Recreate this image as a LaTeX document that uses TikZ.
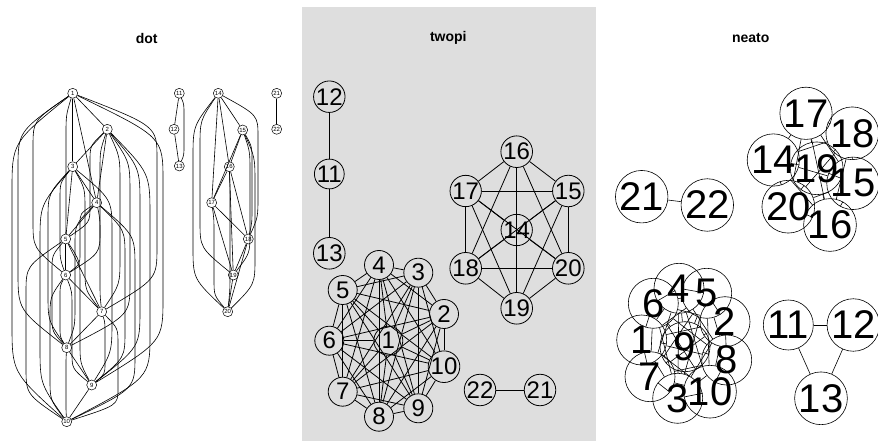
\documentclass[tikz,border=0pt]{standalone}
\usepackage{fontspec}
\setmainfont{Liberation Sans}
\usetikzlibrary{calc}
\definecolor{panelgray}{RGB}{222,222,222}
\tikzset{
  dotn/.style={circle, draw, line width=0.5pt, fill=white, inner sep=0pt, minimum size=10pt, font=\fontsize{6}{6}\selectfont},
  twn/.style={circle, draw, line width=0.8pt, inner sep=0pt, minimum size=29pt, font=\fontsize{24}{24}\selectfont},
  nen/.style={circle, draw, line width=0.6pt, inner sep=0pt, minimum size=50pt, font=\fontsize{40}{40}\selectfont},
  dotedge/.style={draw, line width=0.6pt},
  twedge/.style={draw, line width=0.8pt},
  needge/.style={draw, line width=0.6pt},
  paneltitle/.style={font=\fontsize{14}{14}\selectfont\bfseries}
}
\newcommand\dotcurve[3]{\draw[dotedge] let \p1=(#1.center), \p2=(#2.center), \n1={0.3*(\y2-\y1)} in
  (#1) .. controls ({#3*1pt},{\y1+0.5*\n1*1pt}) .. ({#3*1pt},{\y1+\n1*1pt})
  -- ({#3*1pt},{\y2-\n1*1pt}) .. controls ({#3*1pt},{\y2-0.5*\n1*1pt}) .. (#2);}
\begin{document}
\begin{tikzpicture}[x=1pt,y=-1pt]
\useasboundingbox (0,0) rectangle (878,443);
\fill[panelgray] (302,7) rectangle (596,441);
% titles
\node[paneltitle] (tdot) at (146.7,38.3) {dot};
\node[paneltitle] (ttwo) at (448.3,38.3) {twopi};
\node[paneltitle] (tnea) at (750.7,38.3) {neato};
% ---------------- dot ----------------
\node[dotn] (d1) at (72.7,93.3) {1};
\node[dotn] (d2) at (107.3,129.3) {2};
\node[dotn] (d3) at (72.7,166.7) {3};
\node[dotn] (d4) at (96.7,202.7) {4};
\node[dotn] (d5) at (65.7,239) {5};
\node[dotn] (d6) at (65.7,275) {6};
\node[dotn] (d7) at (101.7,311.7) {7};
\node[dotn] (d8) at (66.7,347.7) {8};
\node[dotn] (d9) at (91.7,385) {9};
\node[dotn] (d10) at (66.7,421.7) {10};
\node[dotn] (d11) at (179.3,93.3) {11};
\node[dotn] (d12) at (174,129.3) {12};
\node[dotn] (d13) at (179.3,166) {13};
\node[dotn] (d14) at (218.3,93.3) {14};
\node[dotn] (d15) at (242.7,130) {15};
\node[dotn] (d16) at (229.3,166.7) {16};
\node[dotn] (d17) at (211.7,202.7) {17};
\node[dotn] (d18) at (248.3,239) {18};
\node[dotn] (d19) at (233.3,275) {19};
\node[dotn] (d20) at (227.7,311.7) {20};
\node[dotn] (d21) at (276.7,93.3) {21};
\node[dotn] (d22) at (276.7,129.3) {22};
\foreach \a/\b in {1/2,1/3,1/4,2/3,2/4,3/4,3/5,4/5,5/6,5/7,6/7,7/8,8/9,9/10,
  14/15,14/16,14/17,15/16,15/17,16/17,16/18,16/19,17/18,17/19,18/19,18/20,19/20,
  11/12,12/13,21/22}
  {\draw[dotedge] (d\a) -- (d\b);}
\foreach \a/\b/\l in {1/5/66,1/6/33,1/7/157,1/8/18,1/9/163,1/10/12,
  2/5/90,2/6/100,2/7/120,2/8/130,2/9/140,2/10/150,
  3/6/60,3/7/85,3/8/48,3/9/112,3/10/40,
  4/6/80,4/7/100,4/8/75,4/9/125,4/10/135,
  5/8/52,5/9/80,5/10/26,
  6/8/60,6/9/72,6/10/50,
  7/9/105,7/10/118,8/10/66,
  14/18/258,14/19/200,14/20/193,15/18/252,15/19/250,15/20/255,16/20/230,17/20/214,
  11/13/184}
  {\dotcurve{d\a}{d\b}{\l}}
% ---------------- twopi ----------------
\node[twn] (t12) at (329.3,96.7) {12};
\node[twn] (t11) at (329.3,174) {11};
\node[twn] (t13) at (329.3,253.3) {13};
\node[twn] (t16) at (516.7,151.7) {16};
\node[twn] (t17) at (465.7,191) {17};
\node[twn] (t15) at (568.3,191) {15};
\node[twn] (t14) at (516.7,230) {14};
\node[twn] (t18) at (465.7,268.3) {18};
\node[twn] (t20) at (568.3,268.3) {20};
\node[twn] (t19) at (516.7,308.3) {19};
\node[twn] (t4) at (379,265) {4};
\node[twn] (t3) at (418.3,272.7) {3};
\node[twn] (t5) at (342.7,290) {5};
\node[twn] (t2) at (444,314) {2};
\node[twn] (t6) at (329.3,340.7) {6};
\node[twn] (t1) at (388.3,340.7) {1};
\node[twn] (t10) at (444,366.7) {10};
\node[twn] (t7) at (342.7,391.7) {7};
\node[twn] (t9) at (418.3,408.3) {9};
\node[twn] (t8) at (379,416.7) {8};
\node[twn] (t22) at (480,390) {22};
\node[twn] (t21) at (540,390) {21};
\foreach \i in {1,...,9}{
  \pgfmathtruncatemacro\k{\i+1}
  \foreach \j in {\k,...,10}{\draw[twedge] (t\i) -- (t\j);}}
\foreach \i in {14,...,19}{
  \pgfmathtruncatemacro\k{\i+1}
  \foreach \j in {\k,...,20}{\draw[twedge] (t\i) -- (t\j);}}
\draw[twedge] (t12) -- (t11);
\draw[twedge] (t11) -- (t13);
\draw[twedge] (t22) -- (t21);
% ---------------- neato ----------------
\node[nen] (n21) at (641.7,196.7) {21};
\node[nen] (n22) at (707.3,205) {22};
\node[nen] (n17) at (806,113.3) {17};
\node[nen] (n18) at (852.3,133.3) {18};
\node[nen] (n14) at (773.3,160) {14};
\node[nen] (n19) at (816.7,168.3) {19};
\node[nen] (n15) at (853,183.3) {15};
\node[nen] (n20) at (788.3,206.7) {20};
\node[nen] (n16) at (830,225) {16};
\node[nen] (n4) at (679,288.3) {4};
\node[nen] (n5) at (706.7,293.3) {5};
\node[nen] (n6) at (653.3,303.3) {6};
\node[nen] (n2) at (725,321.7) {2};
\node[nen] (n1) at (641.7,340) {1};
\node[nen] (n9) at (685,346.7) {9};
\node[nen] (n8) at (726.7,360) {8};
\node[nen] (n7) at (650,376.7) {7};
\node[nen] (n3) at (677.7,398.3) {3};
\node[nen] (n10) at (710,391.7) {10};
\node[nen] (n11) at (788.3,325) {11};
\node[nen] (n12) at (853.3,325) {12};
\node[nen] (n13) at (821,398.3) {13};
\foreach \i in {1,...,9}{
  \pgfmathtruncatemacro\k{\i+1}
  \foreach \j in {\k,...,10}{\draw[needge] (n\i) -- (n\j);}}
\foreach \i in {14,...,19}{
  \pgfmathtruncatemacro\k{\i+1}
  \foreach \j in {\k,...,20}{\draw[needge] (n\i) -- (n\j);}}
\draw[needge] (n11) -- (n12);
\draw[needge] (n11) -- (n13);
\draw[needge] (n12) -- (n13);
\draw[needge] (n21) -- (n22);
\end{tikzpicture}
\end{document}
